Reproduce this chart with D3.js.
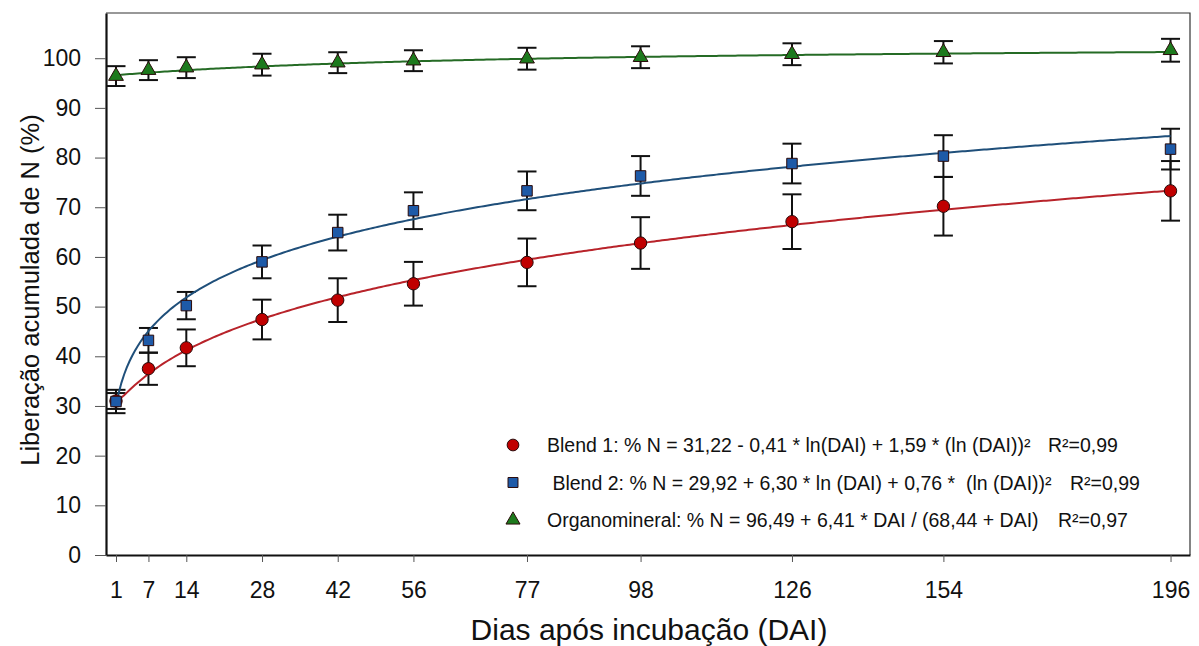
<!DOCTYPE html>
<html>
<head>
<meta charset="utf-8">
<script src="https://cdn.jsdelivr.net/npm/d3@7"></script>
<style>
  body { margin: 0; background: #fff; }
  svg text { font-family: "Liberation Sans", Arial, sans-serif; fill: #111; }
</style>
</head>
<body>
<div id="chart"></div>
<script>
// dias de incubacao e valores medidos (leitura do grafico)
const days = [1, 7, 14, 28, 42, 56, 77, 98, 126, 154, 196];
const blend1 = [31.0, 37.5, 41.7, 47.4, 51.3, 54.6, 58.9, 62.8, 67.1, 70.2, 73.3];
const blend1Err = [1.6, 3.25, 3.7, 4.0, 4.4, 4.4, 4.8, 5.2, 5.5, 5.9, 6.0];
const blend2 = [30.9, 43.2, 50.2, 59.0, 64.9, 69.3, 73.3, 76.3, 78.8, 80.3, 81.7];
const blend2Err = [2.35, 2.5, 2.75, 3.3, 3.6, 3.7, 3.9, 4.0, 4.0, 4.2, 4.1];
const organo = [96.4, 97.6, 98.1, 98.7, 99.1, 99.5, 99.9, 100.2, 100.8, 101.2, 101.6];
const organoErr = [2.0, 2.0, 2.1, 2.2, 2.1, 2.1, 2.2, 2.2, 2.2, 2.25, 2.3];

// coeficientes das equacoes ajustadas (da legenda)
const coefBlend1 = [31.22, -0.41, 1.59];
const coefBlend2 = [29.92, 6.30, 0.76];
const coefOrgano = [96.49, 6.41, 68.44];

const yTicks = [0, 10, 20, 30, 40, 50, 60, 70, 80, 90, 100];

const legendLabels = [
  "Blend 1: % N = 31,22 - 0,41 * ln(DAI) + 1,59 * (ln (DAI))²",
  " Blend 2: % N = 29,92 + 6,30 * ln (DAI) + 0,76 *  (ln (DAI))²",
  "Organomineral: % N = 96,49 + 6,41 * DAI / (68,44 + DAI)",
];
const legendR2 = ["R²=0,99", "R²=0,99", "R²=0,97"];

const width = 1199;
const height = 646;
const margin = { top: 13, right: 9, bottom: 91, left: 106 };

const svg = d3
  .select("#chart")
  .append("svg")
  .attr("width", width)
  .attr("height", height);

const x = d3.scaleLinear().domain([-0.85, 199.6]).range([margin.left, width - margin.right]);
const y = d3.scaleLinear().domain([0, 109.1]).range([height - margin.bottom, margin.top]);

// moldura fina (topo e direita)
svg
  .append("path")
  .attr("d", `M${margin.left},${margin.top}H${width - margin.right}V${height - margin.bottom}`)
  .attr("fill", "none")
  .attr("stroke", "#333")
  .attr("stroke-width", 1.2);

// eixos
const xAxis = svg
  .append("g")
  .attr("transform", `translate(0,${height - margin.bottom})`)
  .call(d3.axisBottom(x).tickValues(days).tickSize(7).tickPadding(20).tickSizeOuter(0));
xAxis.select(".domain").attr("stroke", "#111").attr("stroke-width", 2.2);
xAxis.selectAll(".tick line").attr("stroke", "#555");
xAxis.selectAll("text").attr("font-size", 23);

const yAxis = svg
  .append("g")
  .attr("transform", `translate(${margin.left},0)`)
  .call(d3.axisLeft(y).tickValues(yTicks).tickSize(11).tickPadding(14).tickSizeOuter(0));
yAxis.select(".domain").attr("stroke", "#111").attr("stroke-width", 2.2);
yAxis.selectAll(".tick line").attr("stroke", "#555");
yAxis.selectAll("text").attr("font-size", 23);

// titulos dos eixos
svg
  .append("text")
  .attr("x", 649)
  .attr("y", 640)
  .attr("text-anchor", "middle")
  .attr("font-size", 30)
  .text("Dias após incubação (DAI)");

svg
  .append("text")
  .attr("transform", `translate(39, 290) rotate(-90)`)
  .attr("text-anchor", "middle")
  .attr("font-size", 25.5)
  .text("Liberação acumulada de N (%)");

// series
const series = [
  {
    values: blend1, err: blend1Err, fill: "#c00000", line: "#b8232a", symbol: d3.symbolCircle, size: 120,
    fit: (t) => coefBlend1[0] + coefBlend1[1] * Math.log(t) + coefBlend1[2] * Math.log(t) ** 2,
  },
  {
    values: blend2, err: blend2Err, fill: "#1e5aa8", line: "#1f4f7a", symbol: d3.symbolSquare, size: 110,
    fit: (t) => coefBlend2[0] + coefBlend2[1] * Math.log(t) + coefBlend2[2] * Math.log(t) ** 2,
  },
  {
    values: organo, err: organoErr, fill: "#1d7a1d", line: "#256b25", symbol: d3.symbolTriangle, size: 95,
    fit: (t) => coefOrgano[0] + (coefOrgano[1] * t) / (coefOrgano[2] + t),
  },
];

const curveDays = d3.range(1, 196.01, 0.5);
const line = d3
  .line()
  .x((d) => x(d[0]))
  .y((d) => y(d[1]));

// barras de erro
series.forEach((s) => {
  const g = svg.append("g").attr("stroke", "#111").attr("stroke-width", 2);
  days.forEach((d, i) => {
    const cx = x(d);
    const y0 = y(s.values[i] - s.err[i]);
    const y1 = y(s.values[i] + s.err[i]);
    g.append("line").attr("x1", cx).attr("x2", cx).attr("y1", y0).attr("y2", y1);
    g.append("line").attr("x1", cx - 9.5).attr("x2", cx + 9.5).attr("y1", y0).attr("y2", y0);
    g.append("line").attr("x1", cx - 9.5).attr("x2", cx + 9.5).attr("y1", y1).attr("y2", y1);
  });
});

// curvas ajustadas
series.forEach((s) => {
  svg
    .append("path")
    .datum(curveDays.map((t) => [t, s.fit(t)]))
    .attr("d", line)
    .attr("fill", "none")
    .attr("stroke", s.line)
    .attr("stroke-width", 2);
});

// marcadores
series.forEach((s) => {
  svg
    .append("g")
    .selectAll("path")
    .data(days)
    .join("path")
    .attr("transform", (d, i) => `translate(${x(d)},${y(s.values[i])})`)
    .attr("d", d3.symbol().type(s.symbol).size(s.size))
    .attr("fill", s.fill)
    .attr("stroke", "#2a0a0a")
    .attr("stroke-width", 1);
});

// legenda
const legend = svg
  .selectAll(".legend")
  .data(series)
  .join("g")
  .attr("class", "legend")
  .attr("transform", (_, i) => `translate(513, ${445 + i * 37.5})`);

legend
  .append("path")
  .attr("d", (s) => d3.symbol().type(s.symbol).size(s.size * 0.9)())
  .attr("fill", (s) => s.fill)
  .attr("stroke", "#2a0a0a")
  .attr("stroke-width", 1);

legend
  .append("text")
  .attr("x", 34)
  .attr("y", 7)
  .attr("font-size", 19.5)
  .style("white-space", "pre")
  .text((_, i) => legendLabels[i]);

legend
  .append("text")
  .attr("x", (_, i) => [535, 557, 545][i])
  .attr("y", 7)
  .attr("font-size", 19.5)
  .text((_, i) => legendR2[i]);
</script>
</body>
</html>
